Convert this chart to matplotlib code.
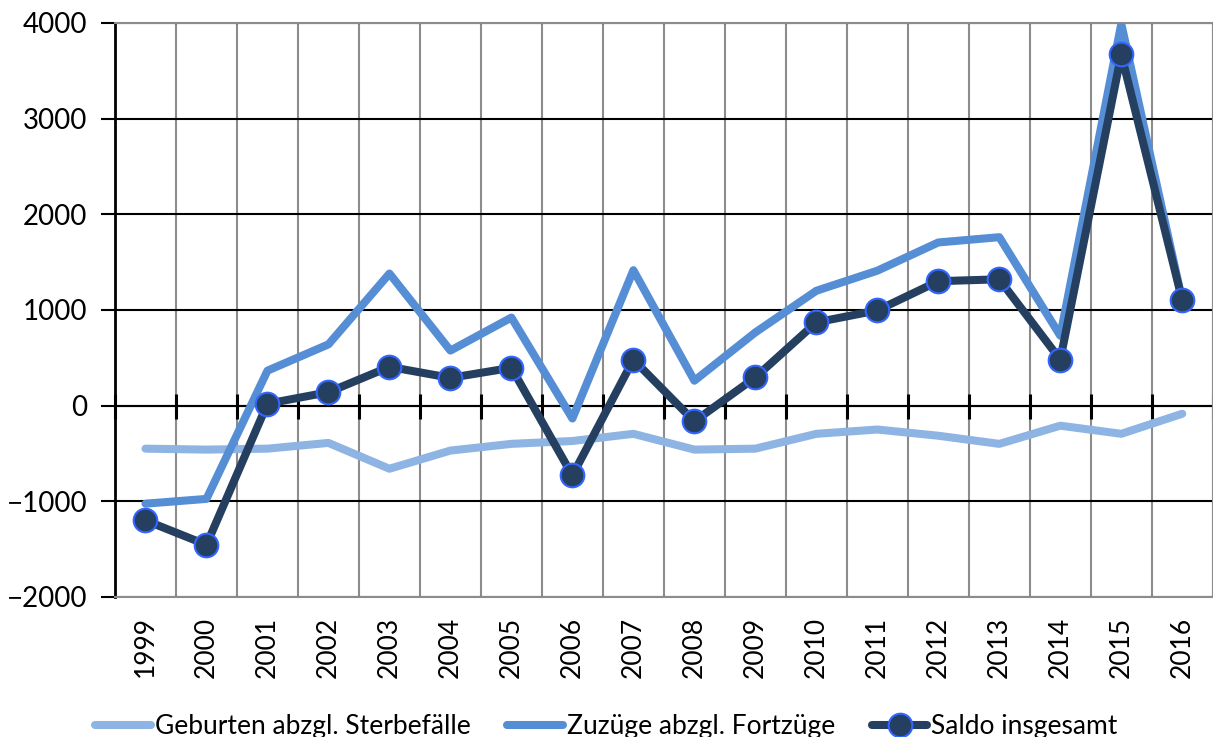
import matplotlib.pyplot as plt
import numpy as np

plt.rcParams['font.family'] = ['Lato', 'DejaVu Sans']

jahre = ['1999', '2000', '2001', '2002', '2003', '2004', '2005', '2006', '2007',
         '2008', '2009', '2010', '2011', '2012', '2013', '2014', '2015', '2016']
geburten = [-450, -460, -450, -390, -660, -470, -400, -370, -295,
            -460, -450, -295, -250, -315, -400, -210, -295, -85]
zuzuege = [-1025, -975, 365, 640, 1380, 575, 920, -135, 1415,
           260, 765, 1200, 1410, 1705, 1760, 730, 3990, 1100]
saldo = [-1200, -1455, 20, 140, 405, 290, 395, -730, 480,
         -165, 295, 870, 995, 1300, 1320, 480, 3670, 1100]

fig = plt.figure(figsize=(12.13, 7.37), dpi=100)
ax = fig.add_axes([0.0948, 0.19, 0.905, 0.779])

x = np.arange(len(jahre))
ax.plot(x, geburten, color='#8DB4E2', lw=5.8, solid_capstyle='round',
        label='Geburten abzgl. Sterbefälle', zorder=3)
ax.plot(x, zuzuege, color='#558ED5', lw=5.8, solid_capstyle='round',
        label='Zuzüge abzgl. Fortzüge', zorder=4)
ax.plot(x, saldo, color='#243F60', lw=5.8, marker='o', ms=17,
        mfc='#243F60', mec='#3366FF', mew=1.5, solid_capstyle='round',
        label='Saldo insgesamt', zorder=5)

ax.set_xlim(-0.5, len(jahre) - 0.5)
ax.set_ylim(-2000, 4000)

# y axis
ax.set_yticks(range(-2000, 4001, 1000))
ax.yaxis.grid(True, color='black', lw=1.5)
ax.tick_params(axis='y', direction='out', length=10, width=1.5, labelsize=20, pad=10)

# x axis: labels at centres, grid at boundaries
ax.set_xticks(x)
ax.set_xticklabels(jahre, rotation=90, fontsize=19)
ax.tick_params(axis='x', length=0, pad=14)
ax.set_xticks(np.arange(-0.5, len(jahre)), minor=True)
ax.tick_params(axis='x', which='minor', length=0)
ax.xaxis.grid(True, which='minor', color='#8C8C8C', lw=1.5)
ax.set_axisbelow(True)

for s in ['top', 'right', 'bottom']:
    ax.spines[s].set_color('#8C8C8C')
    ax.spines[s].set_linewidth(1.5)
ax.spines['left'].set_color('black')
ax.spines['left'].set_linewidth(2)

# zero line with tick marks at the category boundaries
sec = ax.secondary_xaxis(1 / 3)
sec.set_xticks(np.arange(-0.5, len(jahre)))
sec.tick_params(direction='inout', length=18, width=2.2, color='black',
                labelbottom=False)
sec.spines['bottom'].set_color('black')
sec.spines['bottom'].set_linewidth(1.5)
sec.set_zorder(2)

fig.legend(loc='lower center', bbox_to_anchor=(0.5, -0.035), ncol=3,
           frameon=False, fontsize=19, handlelength=2.1, handletextpad=0.15,
           columnspacing=1.4)

fig.savefig('out.png', dpi=100)
